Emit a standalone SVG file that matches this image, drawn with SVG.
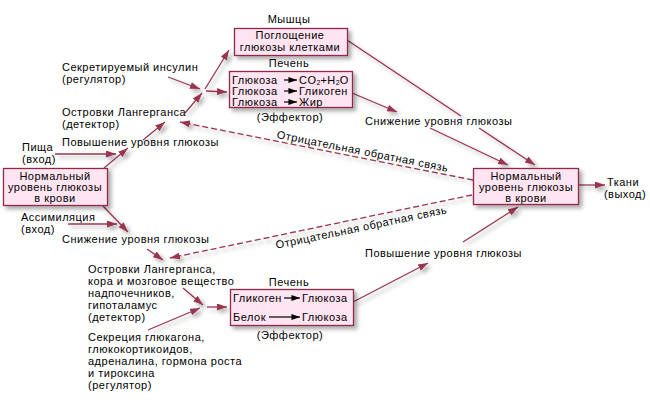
<svg xmlns="http://www.w3.org/2000/svg" width="650" height="400" viewBox="0 0 650 400">
<defs>
<style>
text{font-family:"Liberation Sans",Arial,sans-serif;font-size:11px;letter-spacing:0.5px;fill:#000}
.m{text-anchor:middle}
.box{fill:#ffe4f2;stroke:#8e2c48;stroke-width:1.3}
.c{fill:none;stroke:#9a3550;stroke-width:1.3}
.d{fill:none;stroke:#9a3550;stroke-width:1.3;stroke-dasharray:6 3}
.k{fill:none;stroke:#000;stroke-width:1.2}
.sub{font-size:7px;letter-spacing:0}
</style>
<marker id="ah" viewBox="0 0 10 7" refX="10" refY="3.5" markerWidth="10" markerHeight="7" markerUnits="userSpaceOnUse" orient="auto">
<path d="M0,0 L10,3.5 L0,7 z" fill="#9a3550"/>
</marker>
<marker id="bk" viewBox="0 0 10 7" refX="10" refY="3.5" markerWidth="9" markerHeight="6" markerUnits="userSpaceOnUse" orient="auto">
<path d="M0,0 L10,3.5 L0,7 z" fill="#000"/>
</marker>
<filter id="sh" x="-20%" y="-20%" width="140%" height="160%">
<feDropShadow dx="3" dy="3" stdDeviation="2" flood-color="#000" flood-opacity="0.35"/>
</filter>
</defs>
<rect width="650" height="400" fill="#fff"/>

<g id="connectors" filter="url(#sh)">
<path class="c" d="M104,168 L128,148" marker-end="url(#ah)"/>
<path class="c" d="M55,154 L116,154" marker-end="url(#ah)"/>
<path class="c" d="M143,140 L165,122" marker-end="url(#ah)"/>
<path class="c" d="M185,113 L202,93" marker-end="url(#ah)"/>
<path class="c" d="M168,77 L200,89" marker-end="url(#ah)"/>
<path class="c" d="M205,89 L229,50" marker-end="url(#ah)"/>
<path class="c" d="M206,91 L227,92" marker-end="url(#ah)"/>
<path class="c" d="M347,40 L461,116"/>
<path class="c" d="M479,128 L535,165" marker-end="url(#ah)"/>
<path class="c" d="M352,93 L397,112" marker-end="url(#ah)"/>
<path class="c" d="M430,128 L508,165" marker-end="url(#ah)"/>
<path class="c" d="M103,206 L128,232" marker-end="url(#ah)"/>
<path class="c" d="M68,224 L117,224" marker-end="url(#ah)"/>
<path class="c" d="M147,249 L163,260" marker-end="url(#ah)"/>
<path class="c" d="M183,288 L203,305" marker-end="url(#ah)"/>
<path class="c" d="M148,330 L200,308" marker-end="url(#ah)"/>
<path class="c" d="M207,307 L227,307" marker-end="url(#ah)"/>
<path class="c" d="M353,302 L428,263" marker-end="url(#ah)"/>
<path class="c" d="M463,242 L518,207" marker-end="url(#ah)"/>
<path class="c" d="M579,185 L605,185" marker-end="url(#ah)"/>
<path class="d" d="M473,180 L180,122" marker-end="url(#ah)"/>
<path class="d" d="M472,195 L170,258" marker-end="url(#ah)"/>
</g>

<g id="muscles">
<text class="m" x="289" y="23">Мышцы</text>
<rect class="box" x="234.5" y="28.5" width="113" height="27" filter="url(#sh)"/>
<text class="m" x="290" y="39">Поглощение</text>
<text class="m" x="290" y="51">глюкозы клетками</text>
</g>

<g id="liver-top">
<text class="m" x="289" y="67">Печень</text>
<rect class="box" x="229.5" y="71.5" width="123" height="36" filter="url(#sh)"/>
<text x="232" y="83.5">Глюкоза</text>
<text x="232" y="94.5">Глюкоза</text>
<text x="232" y="105.5">Глюкоза</text>
<path class="k" d="M284,80 L297,80" marker-end="url(#bk)"/>
<path class="k" d="M284,91 L297,91" marker-end="url(#bk)"/>
<path class="k" d="M284,102 L297,102" marker-end="url(#bk)"/>
<text x="299" y="83.5">CO<tspan class="sub" dy="1.5">2</tspan><tspan dy="-1.5">+H</tspan><tspan class="sub" dy="1.5">2</tspan><tspan dy="-1.5">O</tspan></text>
<text x="299" y="94.5">Гликоген</text>
<text x="299" y="105.5">Жир</text>
<text class="m" x="290" y="121">(Эффектор)</text>
</g>

<g id="liver-bottom">
<text class="m" x="289" y="286">Печень</text>
<rect class="box" x="230.5" y="289.5" width="123" height="36" filter="url(#sh)"/>
<text x="233" y="302">Гликоген</text>
<path class="k" d="M284,298 L300,298" marker-end="url(#bk)"/>
<text x="302" y="302">Глюкоза</text>
<text x="233" y="321">Белок</text>
<path class="k" d="M269,317 L300,317" marker-end="url(#bk)"/>
<text x="302" y="321">Глюкоза</text>
<text class="m" x="290" y="339">(Эффектор)</text>
</g>

<g id="normal-left">
<rect class="box" x="3.5" y="168.5" width="104" height="37" filter="url(#sh)"/>
<text class="m" x="55" y="180">Нормальный</text>
<text class="m" x="55" y="191">уровень глюкозы</text>
<text class="m" x="55" y="202">в крови</text>
</g>

<g id="normal-right">
<rect class="box" x="473.5" y="168.5" width="105" height="36" filter="url(#sh)"/>
<text class="m" x="526" y="180">Нормальный</text>
<text class="m" x="526" y="191">уровень глюкозы</text>
<text class="m" x="526" y="201.5">в крови</text>
</g>

<g id="tissues">
<text class="m" x="623" y="186">Ткани</text>
<text class="m" x="625" y="198">(выход)</text>
</g>

<g id="labels">
<text x="62" y="71">Секретируемый инсулин</text>
<text x="62" y="82.5">(регулятор)</text>
<text x="62" y="116">Островки Лангерганса</text>
<text x="62" y="127.5">(детектор)</text>
<text x="62" y="146">Повышение уровня глюкозы</text>
<text x="22" y="151">Пища</text>
<text x="22" y="162.5">(вход)</text>
<text x="21" y="221">Ассимиляция</text>
<text x="21" y="232.5">(вход)</text>
<text x="62" y="243">Снижение уровня глюкозы</text>
<text x="365" y="125">Снижение уровня глюкозы</text>
<text x="365" y="257">Повышение уровня глюкозы</text>
<text x="88" y="273">Островки Лангерганса,</text>
<text x="88" y="285">кора и мозговое вещество</text>
<text x="88" y="297">надпочечников,</text>
<text x="88" y="309">гипоталамус</text>
<text x="88" y="321">(детектор)</text>
<text x="88" y="341">Секреция глюкагона,</text>
<text x="88" y="353">глюкокортикоидов,</text>
<text x="88" y="365">адреналина, гормона роста</text>
<text x="88" y="377">и тироксина</text>
<text x="88" y="389">(регулятор)</text>
<text class="m" transform="translate(362,155) rotate(11.2)">Отрицательная обратная связь</text>
<text class="m" transform="translate(362,231) rotate(-11.8)">Отрицательная обратная связь</text>
</g>
</svg>
